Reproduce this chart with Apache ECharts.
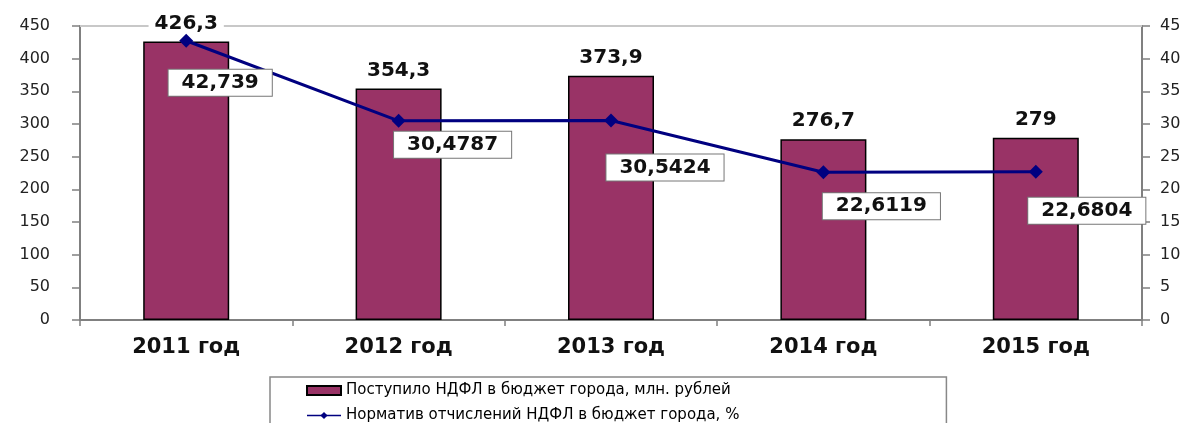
<!DOCTYPE html>
<html><head><meta charset="utf-8">
<script src="https://cdn.jsdelivr.net/npm/echarts@6/dist/echarts.min.js"></script>
<style>html,body{margin:0;padding:0;background:#fff}#c{width:1198px;height:423px}</style>
</head><body><div id="c"></div>
<script>
const categories = ['2011 год','2012 год','2013 год','2014 год','2015 год'];
const revenue = [426.3, 354.3, 373.9, 276.7, 279];
const normative = [42.739, 30.4787, 30.5424, 22.6119, 22.6804];
const leftTicks = [0, 450, 50];
const rightTicks = [0, 45, 5];
const seriesNames = ['Поступило НДФЛ в бюджет города, млн. рублей', 'Норматив отчислений НДФЛ в бюджет города, %'];
const lineLabelOffsets = [[34,42],[54,24],[54,47],[58,34],[51,39]];

const fmt = v => String(v).replace('.', ',');
const chart = echarts.init(document.getElementById('c'));
const wide = 'DejaVu Sans, Verdana, sans-serif';
chart.setOption({
  animation: false,
  textStyle: {fontFamily: wide},
  grid: {left: 80, right: 56, top: 26, bottom: 103},
  legend: {
    orient: 'vertical', left: 270, top: 377, height: 90,
    padding: [6, 207, 30, 36], itemGap: 10, itemWidth: 34, itemHeight: 9,
    borderColor: '#888', borderWidth: 1.5,
    textStyle: {fontSize: 15, color: '#000', fontFamily: wide},
    data: [
      {name: seriesNames[0], icon: 'rect'},
      {name: seriesNames[1], lineStyle: {width: 1.5}, itemStyle: {color: '#000080'}}
    ]
  },
  xAxis: {
    type: 'category', data: categories,
    axisLine: {lineStyle: {color: '#808080', width: 2}},
    axisTick: {show: true, length: 6, lineStyle: {color: '#808080', width: 1.5}},
    axisLabel: {fontSize: 21, fontWeight: 'bold', color: '#111', margin: 17, fontFamily: wide}
  },
  yAxis: [{
    type: 'value', min: leftTicks[0], max: leftTicks[1], interval: leftTicks[2],
    axisLine: {show: true, lineStyle: {color: '#808080', width: 2}},
    axisTick: {show: true, length: 8, lineStyle: {color: '#808080', width: 1.5}},
    splitLine: {show: false},
    axisLabel: {fontSize: 16, color: '#222', margin: 30, fontFamily: wide}
  }, {
    type: 'value', min: rightTicks[0], max: rightTicks[1], interval: rightTicks[2],
    position: 'right',
    axisLine: {show: true, lineStyle: {color: '#808080', width: 2}},
    axisTick: {show: true, length: 8, lineStyle: {color: '#808080', width: 1.5}},
    splitLine: {show: false},
    axisLabel: {fontSize: 16, color: '#222', margin: 18, fontFamily: wide}
  }],
  series: [{
    name: seriesNames[0], type: 'bar', yAxisIndex: 0, data: revenue,
    barWidth: 86,
    itemStyle: {color: '#993366', borderColor: '#000', borderWidth: 1.5},
    label: {show: true, position: 'top', distance: 8, formatter: p => fmt(p.value),
      fontSize: 20, fontWeight: 'bold', color: '#111', backgroundColor: '#fff', padding: [0, 6]},
    markLine: {silent: true, symbol: 'none', label: {show: false}, z: 1,
      lineStyle: {color: '#c8c8c8', width: 2, type: 'solid'},
      data: [{yAxis: leftTicks[1]}]}
  }, {
    name: seriesNames[1], type: 'line', yAxisIndex: 1,
    data: normative.map((v, i) => ({value: v, label: {offset: lineLabelOffsets[i]}})),
    symbol: 'diamond', symbolSize: 14,
    lineStyle: {color: '#000080', width: 3},
    itemStyle: {color: '#000080'},
    z: 5,
    label: {show: true, position: 'inside', formatter: p => fmt(p.value),
      fontSize: 20, fontWeight: 'bold', color: '#111', backgroundColor: '#fff',
      borderColor: '#777', borderWidth: 1, padding: [4, 13, 2, 13]}
  }]
});
</script></body></html>
